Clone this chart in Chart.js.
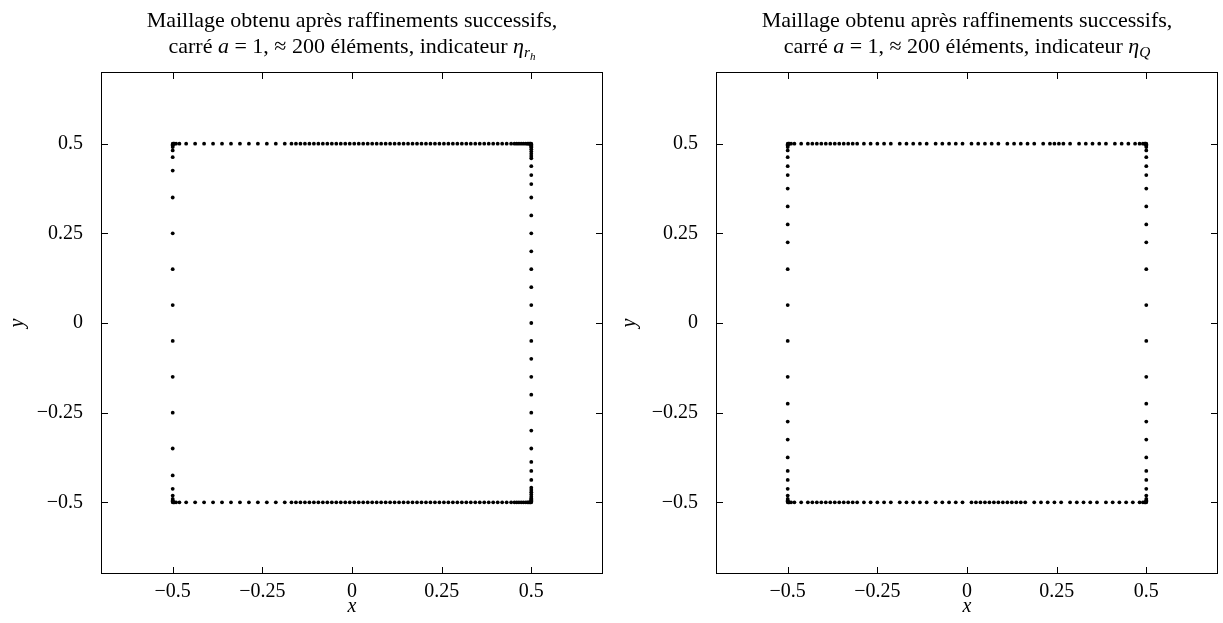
<!DOCTYPE html>
<html>
<head>
<meta charset="utf-8">
<script src="https://cdn.jsdelivr.net/npm/chart.js@4.4.1/dist/chart.umd.min.js"></script>
<style>
    html, body { margin: 0; padding: 0; background: #fff; }
    #wrap { position: relative; width: 1223px; height: 623px; }
    .panel { position: absolute; top: 0; height: 623px; }
</style>
</head>
<body>
<div id="wrap">
    <div class="panel" style="left:0;width:612px"><canvas id="c1"></canvas></div>
    <div class="panel" style="left:612px;width:611px"><canvas id="c2"></canvas></div>
</div>
<script>
// graduations communes aux deux graphes
const tickVals = [-0.5, -0.25, 0, 0.25, 0.5];
const tickLabels = ['\u22120.5', '\u22120.25', '0', '0.25', '0.5'];
const side = 0.5; // carré a = 1

// --- indicateur eta_rh : positions des points sur chaque côté ---
const topX_rh = [
    -0.4992, -0.4977, -0.4953, -0.4906, -0.4813,
    -0.4625, -0.4375, -0.4125, -0.3875, -0.3625, -0.3375, -0.3125, -0.2875, -0.2625, -0.2375, -0.2125, -0.1875,
    -0.1688, -0.1563, -0.1438, -0.1313, -0.1188, -0.1063, -0.0938, -0.0813, -0.0688, -0.0563,
    -0.0438, -0.0313, -0.0188, -0.0063, 0.0063, 0.0188, 0.0313, 0.0438, 0.0563, 0.0688,
    0.0813, 0.0938, 0.1063, 0.1188, 0.1313, 0.1438, 0.1563, 0.1688, 0.1813, 0.1938,
    0.2063, 0.2188, 0.2313, 0.2438, 0.2563, 0.2688, 0.2813, 0.2938, 0.3063, 0.3188,
    0.3313, 0.3438, 0.3563, 0.3688, 0.3813, 0.3938, 0.4063, 0.4188, 0.4313, 0.4438,
    0.4531, 0.4594, 0.4656, 0.4719, 0.4781, 0.4844, 0.4891, 0.4922, 0.4953, 0.4977, 0.4992
];
const bottomX_rh = topX_rh.slice();
const leftY_rh = [
    0.4992, 0.4977, 0.4953, 0.4906, 0.4813, 0.4625, 0.425,
    0.35, 0.25, 0.15, 0.05, -0.05, -0.15, -0.25, -0.35,
    -0.425, -0.4625, -0.4813, -0.4906, -0.4953, -0.4977, -0.4992
];
const rightY_rh = [
    0.4992, 0.4977, 0.4953, 0.4922, 0.4891, 0.4844, 0.4781, 0.4719, 0.4656, 0.4594,
    0.4375, 0.4125, 0.3875,
    0.35, 0.3, 0.25, 0.2, 0.15, 0.1, 0.05, 0, -0.05, -0.1, -0.15, -0.2, -0.25, -0.3, -0.35,
    -0.3875, -0.4125, -0.4375,
    -0.4594, -0.4656, -0.4719, -0.4781, -0.4844, -0.4891, -0.4922, -0.4953, -0.4977, -0.4992
];

// --- indicateur eta_Q ---
const topX_Q = [
    -0.4992, -0.4977, -0.4953, -0.4906, -0.4813, -0.4625,
    -0.4438, -0.4313, -0.4188, -0.4063, -0.3938, -0.3813, -0.3688, -0.3563, -0.3438, -0.3313, -0.3188, -0.3063,
    -0.2875, -0.2688, -0.25, -0.2313, -0.2125,
    -0.1875, -0.1688, -0.15, -0.1313, -0.1125,
    -0.0875, -0.0688, -0.05, -0.0313, -0.0125,
    0.0125, 0.0313, 0.05, 0.0688, 0.0875,
    0.1125, 0.1313, 0.15, 0.1688, 0.1875,
    0.2125, 0.2313, 0.2438, 0.2563, 0.2688, 0.2875,
    0.3125, 0.3313, 0.35, 0.3688, 0.3875,
    0.4125, 0.4313, 0.45, 0.4688, 0.4813, 0.4906, 0.4953, 0.4977, 0.4992
];
const bottomX_Q = [
    -0.4992, -0.4977, -0.4953, -0.4906, -0.4813, -0.4625,
    -0.4438, -0.4313, -0.4188, -0.4063, -0.3938, -0.3813, -0.3688, -0.3563, -0.3438, -0.3313, -0.3188, -0.3063,
    -0.2875, -0.2688, -0.25, -0.2313, -0.2125,
    -0.1875, -0.1688, -0.15, -0.1313, -0.1125,
    -0.0875, -0.0688, -0.05, -0.0313, -0.0125,
    0.0125, 0.025, 0.0375, 0.05, 0.0625, 0.075, 0.0875, 0.1, 0.1125, 0.125, 0.1375, 0.15, 0.1625,
    0.1875, 0.2063, 0.225, 0.2438, 0.2625,
    0.2875, 0.3063, 0.325, 0.3438, 0.3625,
    0.3875, 0.4063, 0.425, 0.4438, 0.4625, 0.4813, 0.4906, 0.4953, 0.4977, 0.4992
];
const leftY_Q = [
    0.4992, 0.4977, 0.4953, 0.4906, 0.4813, 0.4625, 0.4375, 0.4125,
    0.375, 0.325, 0.275, 0.225, 0.15, 0.05, -0.05, -0.15, -0.225, -0.275, -0.325, -0.375,
    -0.4125, -0.4375, -0.4625, -0.4813, -0.4906, -0.4953, -0.4977, -0.4992
];
const rightY_Q = leftY_Q.slice();

const FONT = '"Liberation Serif", "DejaVu Serif", serif';

function carre(topX, bottomX, leftY, rightY) {
    return [
        ...topX.map(x => ({ x: x, y: side })),
        ...bottomX.map(x => ({ x: x, y: -side })),
        ...leftY.map(y => ({ x: -side, y: y })),
        ...rightY.map(y => ({ x: side, y: y }))
    ];
}

// cadre + graduations vers l'intérieur sur les 4 côtés
const cadrePlugin = {
    id: 'cadre',
    afterDraw(chart) {
        const { ctx, chartArea: a, scales: { x, y } } = chart;
        const tl = 7;
        ctx.save();
        ctx.strokeStyle = '#000';
        ctx.lineWidth = 1;
        ctx.strokeRect(a.left + 0.5, a.top + 0.5, a.right - a.left - 1, a.bottom - a.top - 1);
        ctx.beginPath();
        tickVals.forEach(v => {
            const px = Math.round(x.getPixelForValue(v)) + 0.5;
            ctx.moveTo(px, a.top); ctx.lineTo(px, a.top + tl);
            ctx.moveTo(px, a.bottom); ctx.lineTo(px, a.bottom - tl);
            const py = Math.round(y.getPixelForValue(v)) + 0.5;
            ctx.moveTo(a.left, py); ctx.lineTo(a.left + tl, py);
            ctx.moveTo(a.right, py); ctx.lineTo(a.right - tl, py);
        });
        ctx.stroke();
        ctx.restore();
    }
};

// titre sur deux lignes avec indices (eta_{r_h}, eta_Q)
const titrePlugin = {
    id: 'titre',
    afterDraw(chart, args, opts) {
        const { ctx, chartArea: a } = chart;
        const cx = (a.left + a.right) / 2;
        const size = 22;
        ctx.save();
        ctx.fillStyle = '#000';
        ctx.textBaseline = 'alphabetic';
        ctx.font = size + 'px ' + FONT;
        ctx.textAlign = 'center';
        ctx.fillText(opts.ligne1, cx, 27);

        ctx.textAlign = 'left';
        const fontOf = s => {
            const sz = s.sub === 2 ? size * 0.5 : s.sub === 1 ? size * 0.7 : size;
            return (s.it ? 'italic ' : '') + sz + 'px ' + FONT;
        };
        let w = 0;
        opts.ligne2.forEach(s => { ctx.font = fontOf(s); w += ctx.measureText(s.t).width; });
        let xx = cx - w / 2;
        opts.ligne2.forEach(s => {
            ctx.font = fontOf(s);
            const dy = s.sub === 2 ? 7 : s.sub === 1 ? 4 : 0;
            ctx.fillText(s.t, xx, 53 + dy);
            xx += ctx.measureText(s.t).width;
        });
        ctx.restore();
    }
};

function makeChart(id, data, padRight, axisWidth, ligne2) {
    const ctx = document.getElementById(id).getContext('2d');
    return new Chart(ctx, {
        type: 'scatter',
        data: {
            datasets: [{
                data: data,
                backgroundColor: '#000',
                borderWidth: 0,
                pointRadius: 1.9,
                pointHoverRadius: 1.9
            }]
        },
        options: {
            responsive: true,
            maintainAspectRatio: false,
            animation: false,
            events: [],
            layout: { padding: { top: 72, right: padRight, bottom: 0, left: 0 } },
            plugins: {
                legend: { display: false },
                tooltip: { enabled: false },
                titre: {
                    ligne1: 'Maillage obtenu après raffinements successifs,',
                    ligne2: ligne2
                }
            },
            scales: {
                x: {
                    type: 'linear', min: -0.7, max: 0.7,
                    afterBuildTicks: s => { s.ticks = tickVals.map(v => ({ value: v })); },
                    afterFit: s => { s.height = 49; },
                    grid: { display: false, drawTicks: false },
                    border: { display: false },
                    ticks: {
                        color: '#000', padding: 6, maxRotation: 0,
                        font: { family: FONT, size: 20 },
                        callback: (v, i) => tickLabels[i]
                    },
                    title: {
                        display: true, text: 'x', color: '#000',
                        font: { family: FONT, size: 20, style: 'italic' },
                        padding: { top: 0, bottom: 4 }
                    }
                },
                y: {
                    type: 'linear', min: -0.7, max: 0.7,
                    afterBuildTicks: s => { s.ticks = tickVals.map(v => ({ value: v })); },
                    afterFit: s => { s.width = axisWidth; },
                    grid: { display: false, drawTicks: false },
                    border: { display: false },
                    ticks: {
                        color: '#000', padding: 18,
                        font: { family: FONT, size: 20 },
                        callback: (v, i) => tickLabels[i]
                    },
                    title: {
                        display: true, text: 'y', color: '#000',
                        font: { family: FONT, size: 20, style: 'italic' },
                        padding: { top: 6, bottom: 0 }
                    }
                }
            }
        },
        plugins: [cadrePlugin, titrePlugin]
    });
}

makeChart('c1', carre(topX_rh, bottomX_rh, leftY_rh, rightY_rh), 9, 101, [
    { t: 'carré ' }, { t: 'a', it: true }, { t: ' = 1, ≈ 200 éléments, indicateur ' },
    { t: 'η', it: true }, { t: 'r', it: true, sub: 1 }, { t: 'h', it: true, sub: 2 }
]);
makeChart('c2', carre(topX_Q, bottomX_Q, leftY_Q, rightY_Q), 5, 104, [
    { t: 'carré ' }, { t: 'a', it: true }, { t: ' = 1, ≈ 200 éléments, indicateur ' },
    { t: 'η', it: true }, { t: 'Q', it: true, sub: 1 }
]);
</script>
</body>
</html>
